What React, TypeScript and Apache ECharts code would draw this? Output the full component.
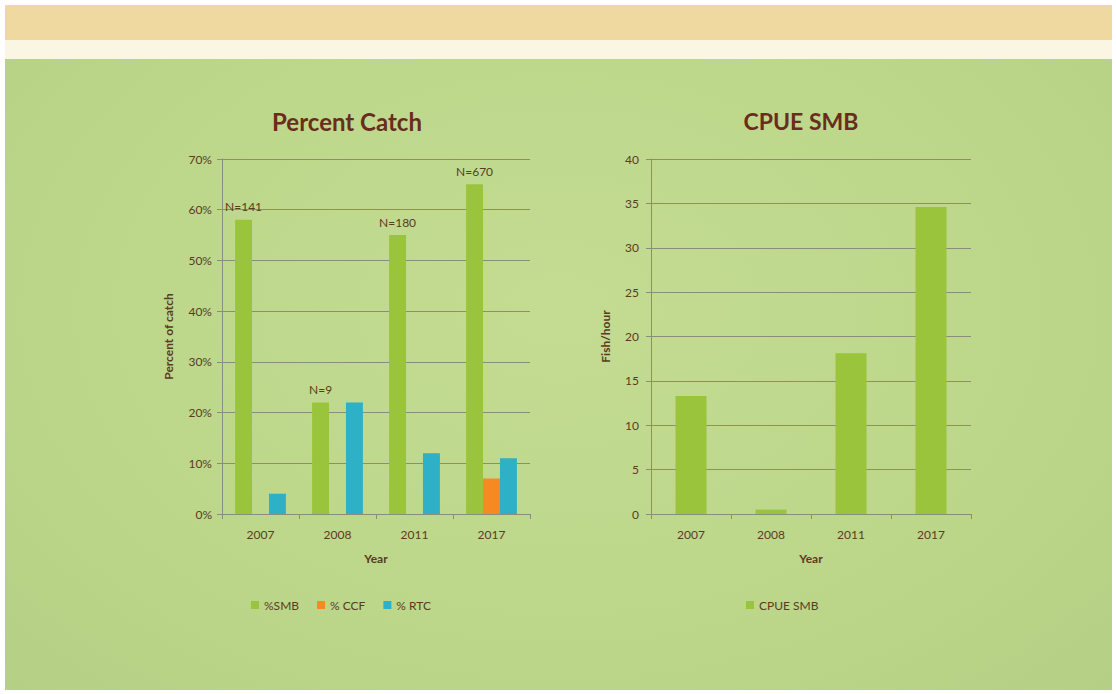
import React, { useEffect, useRef } from "react";
import * as echarts from "echarts";

const years = ["2007", "2008", "2011", "2017"];
const smbPct = [58, 22, 55, 65];
const ccfPct = [0, 0, 0, 7];
const rtcPct = [4, 22, 12, 11];
const sampleSizes = ["N=141", "N=9", "N=180", "N=670"];
const cpueSmb = [13.3, 0.5, 18.1, 34.6];

const textColor = "#5b3a22";
const titleColor = "#6a2c1c";
const gridColor = "#8c8c7c";
const font = "Lato, 'Open Sans', sans-serif";

export default function App() {
  const ref = useRef<HTMLDivElement>(null);
  useEffect(() => {
    if (!ref.current) return;
    const chart = echarts.init(ref.current, null, { renderer: "svg" });
    const axisCommon = {
      axisLine: { show: true, lineStyle: { color: gridColor, width: 1 } },
      axisTick: { show: true, length: 5, lineStyle: { color: gridColor } },
      axisLabel: { color: textColor, fontSize: 12, fontFamily: font },
      nameTextStyle: { color: textColor, fontSize: 12, fontWeight: "bold", fontFamily: font },
    };
    chart.setOption({
      animation: false,
      backgroundColor: "transparent",
      title: [
        {
          text: "Percent Catch",
          left: 342,
          top: 104,
          textAlign: "center",
          textStyle: { color: titleColor, fontSize: 24, fontWeight: "bold", fontFamily: font },
        },
        {
          text: "CPUE SMB",
          left: 796,
          top: 104,
          textAlign: "center",
          textStyle: { color: titleColor, fontSize: 23, fontWeight: "bold", fontFamily: font },
        },
      ],
      legend: [
        {
          data: ["%SMB", "% CCF", "% RTC"],
          left: 246,
          top: 594,
          itemWidth: 8,
          itemHeight: 8,
          itemGap: 18,
          icon: "rect",
          textStyle: { color: textColor, fontSize: 12, fontFamily: font },
        },
        {
          data: ["CPUE SMB"],
          left: 741,
          top: 594,
          itemWidth: 8,
          itemHeight: 8,
          icon: "rect",
          textStyle: { color: textColor, fontSize: 12, fontFamily: font },
        },
      ],
      grid: [
        { left: 222, top: 159, width: 308, height: 355 },
        { left: 651, top: 159, width: 320, height: 355 },
      ],
      xAxis: [
        {
          ...axisCommon,
          type: "category",
          gridIndex: 0,
          data: years,
          name: "Year",
          nameLocation: "middle",
          nameGap: 38,
          axisLabel: { ...axisCommon.axisLabel, margin: 14 },
        },
        {
          ...axisCommon,
          type: "category",
          gridIndex: 1,
          data: years,
          name: "Year",
          nameLocation: "middle",
          nameGap: 38,
          axisLabel: { ...axisCommon.axisLabel, margin: 14 },
        },
      ],
      yAxis: [
        {
          ...axisCommon,
          type: "value",
          gridIndex: 0,
          min: 0,
          max: 70,
          interval: 10,
          name: "Percent of catch",
          nameLocation: "middle",
          nameGap: 48,
          axisLabel: { ...axisCommon.axisLabel, margin: 10, formatter: "{value}%" },
          splitLine: { show: true, lineStyle: { color: gridColor, width: 1 } },
        },
        {
          ...axisCommon,
          type: "value",
          gridIndex: 1,
          min: 0,
          max: 40,
          interval: 5,
          name: "Fish/hour",
          nameLocation: "middle",
          nameGap: 40,
          axisLabel: { ...axisCommon.axisLabel, margin: 12 },
          splitLine: { show: true, lineStyle: { color: gridColor, width: 1 } },
        },
      ],
      series: [
        {
          name: "%SMB",
          type: "bar",
          xAxisIndex: 0,
          yAxisIndex: 0,
          data: smbPct,
          barGap: "0%",
          barCategoryGap: "34%",
          itemStyle: { color: "#9ac43c" },
          label: {
            show: true,
            position: "top",
            distance: 7,
            color: textColor,
            fontSize: 12,
            fontFamily: font,
            formatter: (p: any) => sampleSizes[p.dataIndex],
          },
        },
        {
          name: "% CCF",
          type: "bar",
          xAxisIndex: 0,
          yAxisIndex: 0,
          data: ccfPct,
          itemStyle: { color: "#f58a22" },
        },
        {
          name: "% RTC",
          type: "bar",
          xAxisIndex: 0,
          yAxisIndex: 0,
          data: rtcPct,
          itemStyle: { color: "#2eb0c6" },
        },
        {
          name: "CPUE SMB",
          type: "bar",
          xAxisIndex: 1,
          yAxisIndex: 1,
          data: cpueSmb,
          barWidth: 31,
          itemStyle: { color: "#9ac43c" },
        },
      ],
    });
    return () => chart.dispose();
  }, []);

  return (
    <div
      style={{
        position: "absolute",
        left: 0,
        top: 0,
        width: 1116,
        height: 694,
        background: "#ffffff",
        overflow: "hidden",
      }}
    >
      <div style={{ position: "absolute", left: 5, top: 5, width: 1107, height: 36, background: "#efd9a0" }} />
      <div style={{ position: "absolute", left: 5, top: 40, width: 1107, height: 20, background: "#fbf6e3" }} />
      <div
        style={{
          position: "absolute",
          left: 5,
          top: 59,
          width: 1107,
          height: 631,
          background: "radial-gradient(ellipse at 50% 40%, #c3dc92 0%, #bcd68a 60%, #b5d084 100%)",
        }}
      />
      <div ref={ref} style={{ position: "absolute", left: 0, top: 0, width: 1116, height: 694 }} />
    </div>
  );
}
